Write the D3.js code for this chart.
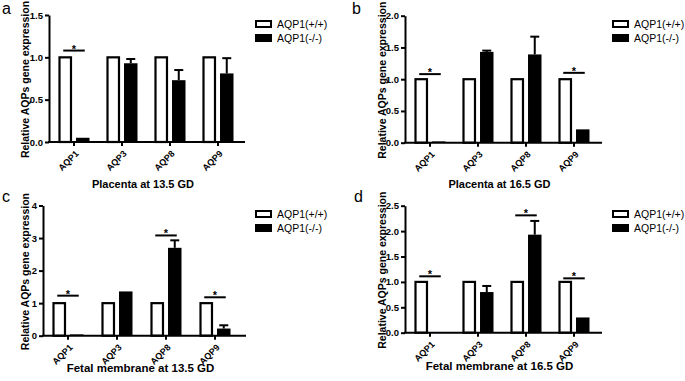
<!DOCTYPE html>
<html><head><meta charset="utf-8">
<script src="https://cdn.jsdelivr.net/npm/d3@7/dist/d3.min.js"></script>
<style>
body{margin:0;background:#fff}
svg{display:block}
text{font-family:Arial,"Liberation Sans",sans-serif;fill:#000}
</style>
</head><body>
<svg id="chart" width="685" height="381"></svg>
<script>
// ---------- data ----------
const categories = ["AQP1", "AQP3", "AQP8", "AQP9"];
const seriesNames = ["AQP1(+/+)", "AQP1(-/-)"];
const panelLetters = ["a", "b", "c", "d"];
const xTitles = ["Placenta at 13.5 GD", "Placenta at 16.5 GD", "Fetal membrane at 13.5 GD", "Fetal membrane at 16.5 GD"];
const yTitle = "Relative AQPs gene expression";

// panel a
const wtA = [1, 1, 1, 1];
const koA = [0.05, 0.93, 0.73, 0.81];
const koErrTopA = [0.05, 0.98, 0.85, 0.99];
const sigCatsA = ["AQP1"];
const sigLevelA = [1.08];
const ticksA = [0, 0.5, 1.0, 1.5];

// panel b
const wtB = [1, 1, 1, 1];
const koB = [0.02, 1.43, 1.39, 0.21];
const koErrTopB = [0.02, 1.45, 1.67, 0.22];
const sigCatsB = ["AQP1", "AQP9"];
const sigLevelB = [1.08, 1.1];
const ticksB = [0, 0.5, 1.0, 1.5, 2.0];

// panel c
const wtC = [1, 1, 1, 1];
const koC = [0.04, 1.36, 2.7, 0.22];
const koErrTopC = [0.04, 1.37, 2.93, 0.32];
const sigCatsC = ["AQP1", "AQP8", "AQP9"];
const sigLevelC = [1.23, 3.08, 1.18];
const ticksC = [0, 1, 2, 3, 4];

// panel d
const wtD = [1, 1, 1, 1];
const koD = [0.01, 0.8, 1.93, 0.3];
const koErrTopD = [0.01, 0.92, 2.2, 0.31];
const sigCatsD = ["AQP1", "AQP8", "AQP9"];
const sigLevelD = [1.11, 2.31, 1.07];
const ticksD = [0, 0.5, 1.0, 1.5, 2.0, 2.5];

// ---------- layout (positions only) ----------
const layouts = [
  {axisX: 49,  axisEnd: 245, band: [50, 242],   yTop: 15,    yBase: 142,   fmt: ".1f", yLabX: 29,  letter: [2, 14],    legX: 255, legY: 20,  titleY: 188, titleSize: 11},
  {axisX: 405, axisEnd: 602, band: [406, 598],  yTop: 15.7,  yBase: 142.7, fmt: ".1f", yLabX: 386, letter: [352, 14],  legX: 612, legY: 20,  titleY: 188, titleSize: 11},
  {axisX: 43,  axisEnd: 246, band: [43.5, 239.5], yTop: 205.5, yBase: 335.7, fmt: "d", yLabX: 29,  letter: [2, 202],   legX: 255, legY: 210, titleY: 372, titleSize: 11.5},
  {axisX: 405, axisEnd: 602, band: [406, 598],  yTop: 205.7, yBase: 332.7, fmt: ".1f", yLabX: 386, letter: [354, 202], legX: 612, legY: 210, titleY: 370, titleSize: 11.5}
];

const panels = [
  {wt: wtA, ko: koA, err: koErrTopA, sigCats: sigCatsA, sigLevel: sigLevelA, ticks: ticksA},
  {wt: wtB, ko: koB, err: koErrTopB, sigCats: sigCatsB, sigLevel: sigLevelB, ticks: ticksB},
  {wt: wtC, ko: koC, err: koErrTopC, sigCats: sigCatsC, sigLevel: sigLevelC, ticks: ticksC},
  {wt: wtD, ko: koD, err: koErrTopD, sigCats: sigCatsD, sigLevel: sigLevelD, ticks: ticksD}
];

const svg = d3.select("#chart");

panels.forEach((p, i) => {
  const L = layouts[i];
  const g = svg.append("g");
  const x = d3.scaleBand().domain(categories).range(L.band);
  const sub = d3.scaleBand().domain(seriesNames).range([-15.5, 15.5]).paddingInner(0.23);
  const y = d3.scaleLinear().domain([0, d3.max(p.ticks)]).range([L.yBase, L.yTop]);
  const cx = c => x(c) + x.bandwidth() / 2;

  // bars
  const rows = categories.map((c, j) => ({c, wt: p.wt[j], ko: p.ko[j], err: p.err[j]}));
  const bw = sub.bandwidth();
  g.selectAll(".wt").data(rows).join("rect")
    .attr("x", d => cx(d.c) + sub(seriesNames[0]) + 1)
    .attr("y", d => y(d.wt))
    .attr("width", bw - 2)
    .attr("height", d => y(0) - y(d.wt))
    .attr("fill", "#fff").attr("stroke", "#000").attr("stroke-width", 2.2);
  g.selectAll(".ko").data(rows).join("rect")
    .attr("x", d => cx(d.c) + sub(seriesNames[1]))
    .attr("y", d => y(d.ko))
    .attr("width", bw)
    .attr("height", d => y(0) - y(d.ko))
    .attr("fill", "#000");
  // error bars (upper only)
  rows.filter(d => d.err - d.ko > 0.015).forEach(d => {
    const mx = cx(d.c) + sub(seriesNames[1]) + bw / 2;
    g.append("line").attr("x1", mx).attr("x2", mx).attr("y1", y(d.ko)).attr("y2", y(d.err))
      .attr("stroke", "#000").attr("stroke-width", 2);
    g.append("line").attr("x1", mx - 4.5).attr("x2", mx + 4.5).attr("y1", y(d.err)).attr("y2", y(d.err))
      .attr("stroke", "#000").attr("stroke-width", 2);
  });

  // significance bars
  p.sigCats.forEach((c, k) => {
    const x1 = cx(c) + sub(seriesNames[0]) + bw / 2 - 2;
    const x2 = cx(c) + sub(seriesNames[1]) + bw / 2 + 2;
    const yy = y(p.sigLevel[k]);
    g.append("line").attr("x1", x1).attr("x2", x2).attr("y1", yy).attr("y2", yy)
      .attr("stroke", "#000").attr("stroke-width", 2);
    g.append("text").attr("x", (x1 + x2) / 2).attr("y", yy + 2)
      .attr("text-anchor", "middle").style("font-size", "11px").style("font-weight", "bold").text("*");
  });

  // y axis
  const ya = g.append("g").attr("transform", `translate(${L.axisX},0)`)
    .call(d3.axisLeft(y).tickValues(p.ticks).tickFormat(d3.format(L.fmt)).tickSize(4).tickSizeOuter(0).tickPadding(2));
  ya.select(".domain").attr("stroke-width", 2).attr("stroke", "#000");
  ya.selectAll(".tick line").attr("stroke-width", 2).attr("stroke", "#000");
  ya.selectAll("text").style("font-size", "9.5px").style("font-weight", "bold").attr("font-family", null);

  // x axis
  const xa = g.append("g").attr("transform", `translate(0,${L.yBase})`)
    .call(d3.axisBottom(x).tickSize(4).tickSizeOuter(0));
  xa.select(".domain").remove();
  xa.append("line").attr("x1", L.axisX - 1).attr("x2", L.axisEnd).attr("y1", 0).attr("y2", 0)
    .attr("stroke", "#000").attr("stroke-width", 2);
  xa.selectAll(".tick line").attr("stroke-width", 2).attr("stroke", "#000");
  xa.selectAll(".tick text")
    .attr("x", 0).attr("y", 0).attr("dy", "0.35em")
    .attr("transform", "translate(3,10) rotate(-45)")
    .style("text-anchor", "end").style("font-size", "9px").style("font-weight", "bold").attr("font-family", null);

  // axis titles
  g.append("text").attr("transform", `translate(${L.yLabX},${(L.yTop + L.yBase) / 2 + 1}) rotate(-90)`)
    .attr("text-anchor", "middle").style("font-size", "10.5px").style("font-weight", "bold").text(yTitle);
  g.append("text").attr("x", (L.axisX + L.axisEnd) / 2 - 4).attr("y", L.titleY)
    .attr("text-anchor", "middle").style("font-size", L.titleSize + "px").style("font-weight", "bold").text(xTitles[i]);

  // panel letter
  g.append("text").attr("x", L.letter[0]).attr("y", L.letter[1]).style("font-size", "16px").text(panelLetters[i]);

  // legend
  const lg = g.append("g").attr("transform", `translate(${L.legX},${L.legY})`);
  seriesNames.forEach((s, k) => {
    lg.append("rect").attr("x", k === 0 ? 1 : 0).attr("y", k * 14 + (k === 0 ? 1 : 0))
      .attr("width", k === 0 ? 15 : 17).attr("height", k === 0 ? 6 : 8)
      .attr("fill", k === 0 ? "#fff" : "#000").attr("stroke", "#000").attr("stroke-width", k === 0 ? 2 : 0);
    lg.append("text").attr("x", 22).attr("y", k * 14 + 4).attr("dy", "0.35em")
      .style("font-size", "10.5px").text(s);
  });
});
</script>
</body></html>
